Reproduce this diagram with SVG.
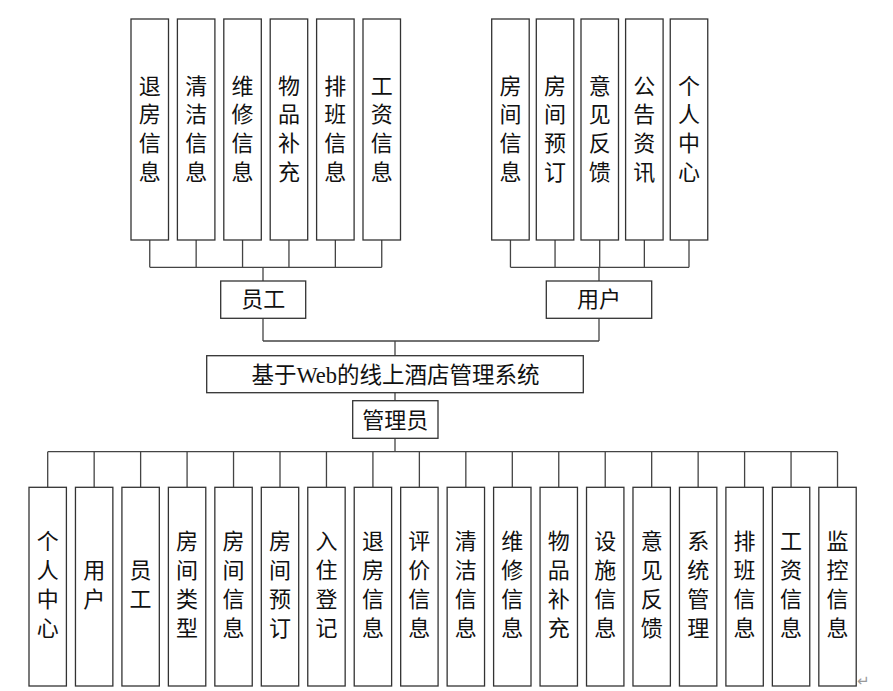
<svg xmlns="http://www.w3.org/2000/svg" width="893" height="691" viewBox="0 0 893 691">
<style>
.box{fill:#fff;stroke:#333;stroke-width:1.3}
.ln{fill:none;stroke:#444;stroke-width:1.3}
.t{font-family:"Liberation Serif","Noto Sans CJK SC",serif;font-size:22px;fill:#111;text-anchor:middle}
.pm{font-family:"DejaVu Sans",sans-serif;font-size:15px;fill:#999}
</style>
<rect width="893" height="691" fill="#fff"/>
<g id="connectors">
<path class="ln" d="M149.75 240V267.3M196.15 240V267.3M242.55 240V267.3M288.95 240V267.3M335.35 240V267.3M381.75 240V267.3M149.75 267.3H381.75M263 267.3V281"/>
<path class="ln" d="M510.45 240V267.3M555.05 240V267.3M599.7 240V267.3M644.35 240V267.3M689 240V267.3M510.45 267.3H689M599 267.3V281"/>
<path class="ln" d="M263 318.3V341M599 318.3V341M263 341H599M395 341V355.7M395 392.7V400.7M395 438.3V451.7"/>
<path class="ln" d="M47.7 451.7H837.52M47.7 451.7V487M94.16 451.7V487M140.62 451.7V487M187.08 451.7V487M233.54 451.7V487M280 451.7V487M326.46 451.7V487M372.92 451.7V487M419.38 451.7V487M465.84 451.7V487M512.3 451.7V487M558.76 451.7V487M605.22 451.7V487M651.68 451.7V487M698.14 451.7V487M744.6 451.7V487M791.06 451.7V487M837.52 451.7V487"/>
</g>
<g id="root"><rect class="box" x="206.7" y="355.7" width="376.6" height="37"/><text class="t" x="395.5" y="382.5" style="font-size:22.5px">基于Web的线上酒店管理系统</text></g>
<g id="staff"><rect class="box" x="220.7" y="281" width="85" height="37.3"/><text class="t" x="263.2" y="307">员工</text></g>
<g id="user"><rect class="box" x="546.3" y="281" width="105.4" height="37.3"/><text class="t" x="599" y="307">用户</text></g>
<g id="admin"><rect class="box" x="352.7" y="400.7" width="85.3" height="37.6"/><text class="t" x="395.3" y="428">管理员</text></g>
<g id="s1"><rect class="box" x="131" y="19" width="37.5" height="221"/><text class="t"><tspan x="149.75" y="93.5">退</tspan><tspan x="149.75" y="122.2">房</tspan><tspan x="149.75" y="150.9">信</tspan><tspan x="149.75" y="179.6">息</tspan></text></g>
<g id="s2"><rect class="box" x="177.4" y="19" width="37.5" height="221"/><text class="t"><tspan x="196.15" y="93.5">清</tspan><tspan x="196.15" y="122.2">洁</tspan><tspan x="196.15" y="150.9">信</tspan><tspan x="196.15" y="179.6">息</tspan></text></g>
<g id="s3"><rect class="box" x="223.8" y="19" width="37.5" height="221"/><text class="t"><tspan x="242.55" y="93.5">维</tspan><tspan x="242.55" y="122.2">修</tspan><tspan x="242.55" y="150.9">信</tspan><tspan x="242.55" y="179.6">息</tspan></text></g>
<g id="s4"><rect class="box" x="270.2" y="19" width="37.5" height="221"/><text class="t"><tspan x="288.95" y="93.5">物</tspan><tspan x="288.95" y="122.2">品</tspan><tspan x="288.95" y="150.9">补</tspan><tspan x="288.95" y="179.6">充</tspan></text></g>
<g id="s5"><rect class="box" x="316.6" y="19" width="37.5" height="221"/><text class="t"><tspan x="335.35" y="93.5">排</tspan><tspan x="335.35" y="122.2">班</tspan><tspan x="335.35" y="150.9">信</tspan><tspan x="335.35" y="179.6">息</tspan></text></g>
<g id="s6"><rect class="box" x="363" y="19" width="37.5" height="221"/><text class="t"><tspan x="381.75" y="93.5">工</tspan><tspan x="381.75" y="122.2">资</tspan><tspan x="381.75" y="150.9">信</tspan><tspan x="381.75" y="179.6">息</tspan></text></g>
<g id="u1"><rect class="box" x="491.7" y="19" width="37.5" height="221"/><text class="t"><tspan x="510.45" y="93.5">房</tspan><tspan x="510.45" y="122.2">间</tspan><tspan x="510.45" y="150.9">信</tspan><tspan x="510.45" y="179.6">息</tspan></text></g>
<g id="u2"><rect class="box" x="536.3" y="19" width="37.5" height="221"/><text class="t"><tspan x="555.05" y="93.5">房</tspan><tspan x="555.05" y="122.2">间</tspan><tspan x="555.05" y="150.9">预</tspan><tspan x="555.05" y="179.6">订</tspan></text></g>
<g id="u3"><rect class="box" x="581" y="19" width="37.5" height="221"/><text class="t"><tspan x="599.75" y="93.5">意</tspan><tspan x="599.75" y="122.2">见</tspan><tspan x="599.75" y="150.9">反</tspan><tspan x="599.75" y="179.6">馈</tspan></text></g>
<g id="u4"><rect class="box" x="625.6" y="19" width="37.5" height="221"/><text class="t"><tspan x="644.35" y="93.5">公</tspan><tspan x="644.35" y="122.2">告</tspan><tspan x="644.35" y="150.9">资</tspan><tspan x="644.35" y="179.6">讯</tspan></text></g>
<g id="u5"><rect class="box" x="670.25" y="19" width="37.5" height="221"/><text class="t"><tspan x="689" y="93.5">个</tspan><tspan x="689" y="122.2">人</tspan><tspan x="689" y="150.9">中</tspan><tspan x="689" y="179.6">心</tspan></text></g>
<g id="a1"><rect class="box" x="29" y="487.3" width="37.4" height="198.7"/><text class="t"><tspan x="47.7" y="549.3">个</tspan><tspan x="47.7" y="578.2">人</tspan><tspan x="47.7" y="607.1">中</tspan><tspan x="47.7" y="636">心</tspan></text></g>
<g id="a2"><rect class="box" x="75.46" y="487.3" width="37.4" height="198.7"/><text class="t"><tspan x="94.16" y="578.2">用</tspan><tspan x="94.16" y="607.1">户</tspan></text></g>
<g id="a3"><rect class="box" x="121.92" y="487.3" width="37.4" height="198.7"/><text class="t"><tspan x="140.62" y="578.2">员</tspan><tspan x="140.62" y="607.1">工</tspan></text></g>
<g id="a4"><rect class="box" x="168.38" y="487.3" width="37.4" height="198.7"/><text class="t"><tspan x="187.08" y="549.3">房</tspan><tspan x="187.08" y="578.2">间</tspan><tspan x="187.08" y="607.1">类</tspan><tspan x="187.08" y="636">型</tspan></text></g>
<g id="a5"><rect class="box" x="214.84" y="487.3" width="37.4" height="198.7"/><text class="t"><tspan x="233.54" y="549.3">房</tspan><tspan x="233.54" y="578.2">间</tspan><tspan x="233.54" y="607.1">信</tspan><tspan x="233.54" y="636">息</tspan></text></g>
<g id="a6"><rect class="box" x="261.3" y="487.3" width="37.4" height="198.7"/><text class="t"><tspan x="280" y="549.3">房</tspan><tspan x="280" y="578.2">间</tspan><tspan x="280" y="607.1">预</tspan><tspan x="280" y="636">订</tspan></text></g>
<g id="a7"><rect class="box" x="307.76" y="487.3" width="37.4" height="198.7"/><text class="t"><tspan x="326.46" y="549.3">入</tspan><tspan x="326.46" y="578.2">住</tspan><tspan x="326.46" y="607.1">登</tspan><tspan x="326.46" y="636">记</tspan></text></g>
<g id="a8"><rect class="box" x="354.22" y="487.3" width="37.4" height="198.7"/><text class="t"><tspan x="372.92" y="549.3">退</tspan><tspan x="372.92" y="578.2">房</tspan><tspan x="372.92" y="607.1">信</tspan><tspan x="372.92" y="636">息</tspan></text></g>
<g id="a9"><rect class="box" x="400.68" y="487.3" width="37.4" height="198.7"/><text class="t"><tspan x="419.38" y="549.3">评</tspan><tspan x="419.38" y="578.2">价</tspan><tspan x="419.38" y="607.1">信</tspan><tspan x="419.38" y="636">息</tspan></text></g>
<g id="a10"><rect class="box" x="447.14" y="487.3" width="37.4" height="198.7"/><text class="t"><tspan x="465.84" y="549.3">清</tspan><tspan x="465.84" y="578.2">洁</tspan><tspan x="465.84" y="607.1">信</tspan><tspan x="465.84" y="636">息</tspan></text></g>
<g id="a11"><rect class="box" x="493.6" y="487.3" width="37.4" height="198.7"/><text class="t"><tspan x="512.3" y="549.3">维</tspan><tspan x="512.3" y="578.2">修</tspan><tspan x="512.3" y="607.1">信</tspan><tspan x="512.3" y="636">息</tspan></text></g>
<g id="a12"><rect class="box" x="540.06" y="487.3" width="37.4" height="198.7"/><text class="t"><tspan x="558.76" y="549.3">物</tspan><tspan x="558.76" y="578.2">品</tspan><tspan x="558.76" y="607.1">补</tspan><tspan x="558.76" y="636">充</tspan></text></g>
<g id="a13"><rect class="box" x="586.52" y="487.3" width="37.4" height="198.7"/><text class="t"><tspan x="605.22" y="549.3">设</tspan><tspan x="605.22" y="578.2">施</tspan><tspan x="605.22" y="607.1">信</tspan><tspan x="605.22" y="636">息</tspan></text></g>
<g id="a14"><rect class="box" x="632.98" y="487.3" width="37.4" height="198.7"/><text class="t"><tspan x="651.68" y="549.3">意</tspan><tspan x="651.68" y="578.2">见</tspan><tspan x="651.68" y="607.1">反</tspan><tspan x="651.68" y="636">馈</tspan></text></g>
<g id="a15"><rect class="box" x="679.44" y="487.3" width="37.4" height="198.7"/><text class="t"><tspan x="698.14" y="549.3">系</tspan><tspan x="698.14" y="578.2">统</tspan><tspan x="698.14" y="607.1">管</tspan><tspan x="698.14" y="636">理</tspan></text></g>
<g id="a16"><rect class="box" x="725.9" y="487.3" width="37.4" height="198.7"/><text class="t"><tspan x="744.6" y="549.3">排</tspan><tspan x="744.6" y="578.2">班</tspan><tspan x="744.6" y="607.1">信</tspan><tspan x="744.6" y="636">息</tspan></text></g>
<g id="a17"><rect class="box" x="772.36" y="487.3" width="37.4" height="198.7"/><text class="t"><tspan x="791.06" y="549.3">工</tspan><tspan x="791.06" y="578.2">资</tspan><tspan x="791.06" y="607.1">信</tspan><tspan x="791.06" y="636">息</tspan></text></g>
<g id="a18"><rect class="box" x="818.82" y="487.3" width="37.4" height="198.7"/><text class="t"><tspan x="837.52" y="549.3">监</tspan><tspan x="837.52" y="578.2">控</tspan><tspan x="837.52" y="607.1">信</tspan><tspan x="837.52" y="636">息</tspan></text></g>
<text class="pm" x="857" y="686">↵</text>
</svg>
